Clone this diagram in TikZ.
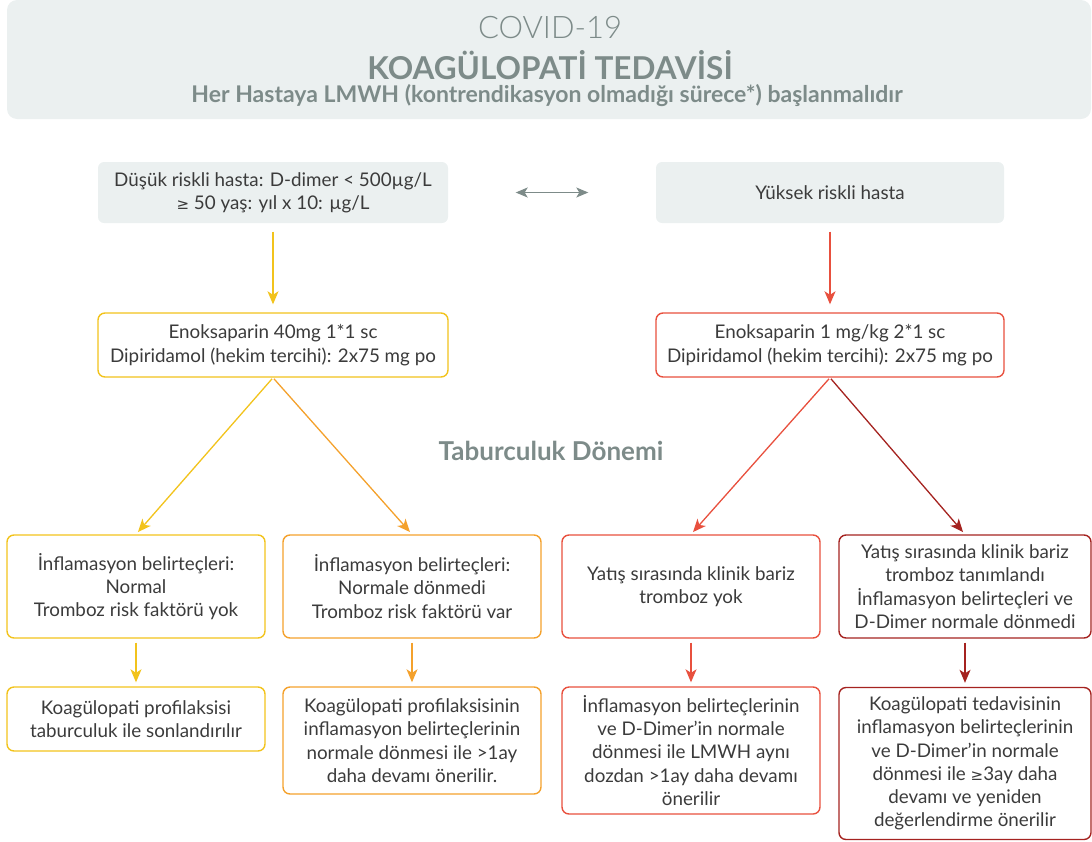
\documentclass[tikz,border=0pt]{standalone}
\usepackage{fontspec}
\setmainfont{Lato}
\newfontfamily\symfont{DejaVu Sans}
\newfontfamily\lightfont{Lato Light}
\usetikzlibrary{arrows.meta}
\definecolor{hdrfill}{HTML}{EBF0F0}
\definecolor{hdrtext}{HTML}{7D8B89}
\definecolor{txt}{HTML}{3B3B3B}
\definecolor{cyel}{HTML}{F2C31C}
\definecolor{corg}{HTML}{F4A12C}
\definecolor{cred}{HTML}{E8503E}
\definecolor{cdred}{HTML}{A52320}
\tikzset{
  box/.style={rectangle, rounded corners=7pt, line width=1.4pt, align=center,
    text=txt, font=\fontsize{18.8}{23.3}\selectfont, inner sep=0pt},
  greybox/.style={box, fill=hdrfill, draw=none, rounded corners=6pt},
  arr/.style={line width=1.3pt, -{Stealth[length=13pt,width=11pt,inset=3.5pt]}},
  dblarr/.style={line width=1.3pt, {Stealth[length=12pt,width=10pt,inset=3pt]}-{Stealth[length=12pt,width=10pt,inset=3pt]}, draw=hdrtext},
  hdrtxt/.style={text=hdrtext, inner sep=0pt, anchor=center}
}
\newcommand{\gesym}{{\symfont\fontsize{15}{23}\selectfont ≥}}
\begin{document}
\begin{tikzpicture}[x=1pt,y=-1pt]
\useasboundingbox (0,0) rectangle (1092,841);
% header
\node[fill=hdrfill, rounded corners=10pt, minimum width=1084pt, minimum height=119pt, inner sep=0pt] (hdr) at (549,59.5) {};
\node[hdrtxt, font=\lightfont\fontsize{31}{32}\selectfont] (t1) at (550,28) {COVID-19};
\node[hdrtxt, font=\bfseries\fontsize{31.5}{33}\selectfont] (t2) at (550,65) {KOAGÜLOPATİ TEDAVİSİ};
\node[hdrtxt, font=\bfseries\fontsize{23}{24}\selectfont] (t3) at (547,96) {Her Hastaya LMWH (kontrendikasyon olmadığı sürece*) başlanmalıdır};
% top boxes
\node[greybox, minimum width=350pt, minimum height=61pt] (top1) at (273,192.5) {Düşük riskli hasta: D-dimer < 500µg/L\\\gesym{} 50 yaş: yıl x 10: µg/L};
\node[greybox, minimum width=348pt, minimum height=61pt] (top2) at (830,192.5) {Yüksek riskli hasta};
% mid boxes
\node[box, draw=cyel, fill=white, minimum width=350pt, minimum height=64pt] (mid1) at (273,345) {Enoksaparin 40mg 1*1 sc\\Dipiridamol (hekim tercihi): 2x75 mg po};
\node[box, draw=cred, fill=white, minimum width=348pt, minimum height=64pt] (mid2) at (830,345) {Enoksaparin 1 mg/kg 2*1 sc\\Dipiridamol (hekim tercihi): 2x75 mg po};
% label
\node[hdrtxt, font=\bfseries\fontsize{26}{28}\selectfont] (tab) at (551,451) {Taburculuk Dönemi};
% row 1
\node[box, draw=cyel, minimum width=258pt, minimum height=103pt] (b1) at (136,586.5) {İnflamasyon belirteçleri:\\Normal\\Tromboz risk faktörü yok};
\node[box, draw=corg, minimum width=258pt, minimum height=103pt] (b2) at (412,586.5) {İnflamasyon belirteçleri:\\Normale dönmedi\\Tromboz risk faktörü var};
\node[box, draw=cred, minimum width=258pt, minimum height=103pt] (b3) at (691,586.5) {Yatış sırasında klinik bariz\\tromboz yok};
\node[box, draw=cdred, minimum width=252pt, minimum height=103pt] (b4) at (965,586.5) {Yatış sırasında klinik bariz\\tromboz tanımlandı\\İnflamasyon belirteçleri ve\\D-Dimer normale dönmedi};
% row 2
\node[box, draw=cyel, minimum width=258pt, minimum height=64pt] (c1) at (136,719) {Koagülopati profilaksisi\\taburculuk ile sonlandırılır};
\node[box, draw=corg, minimum width=258pt, minimum height=107pt] (c2) at (412,740.5) {Koagülopati profilaksisinin\\inflamasyon belirteçlerinin\\normale dönmesi ile >1ay\\daha devamı önerilir.};
\node[box, draw=cred, minimum width=258pt, minimum height=127pt] (c3) at (691,750.5) {İnflamasyon belirteçlerinin\\ve D-Dimer'in normale\\dönmesi ile LMWH aynı\\dozdan >1ay daha devamı\\önerilir};
\node[box, draw=cdred, minimum width=252pt, minimum height=152pt] (c4) at (965,763.5) {Koagülopati tedavisinin\\inflamasyon belirteçlerinin\\ve D-Dimer'in normale\\dönmesi ile \gesym{}3ay daha\\devamı ve yeniden\\değerlendirme önerilir};
% connectors
\draw[dblarr, shorten <=67pt, shorten >=67pt] (top1) -- (top2);
\draw[arr, draw=cyel, shorten <=8pt, shorten >=8pt] (top1.south) -- (mid1.north);
\draw[arr, draw=cred, shorten <=8pt, shorten >=8pt] (top2.south) -- (mid2.north);
\draw[arr, draw=cyel, shorten <=1.5pt, shorten >=3pt] (mid1.south) -- (b1.north);
\draw[arr, draw=corg, shorten <=1.5pt, shorten >=3pt] (mid1.south) -- (b2.north);
\draw[arr, draw=cred, shorten <=1.5pt, shorten >=3pt] (mid2.south) -- (b3.north);
\draw[arr, draw=cdred, shorten <=1.5pt, shorten >=3pt] (mid2.south) -- (b4.north);
\draw[arr, draw=cyel, shorten <=4pt, shorten >=4pt] (b1.south) -- (c1.north);
\draw[arr, draw=corg, shorten <=4pt, shorten >=4pt] (b2.south) -- (c2.north);
\draw[arr, draw=cred, shorten <=4pt, shorten >=4pt] (b3.south) -- (c3.north);
\draw[arr, draw=cdred, shorten <=4pt, shorten >=4pt] (b4.south) -- (c4.north);
\end{tikzpicture}
\end{document}
